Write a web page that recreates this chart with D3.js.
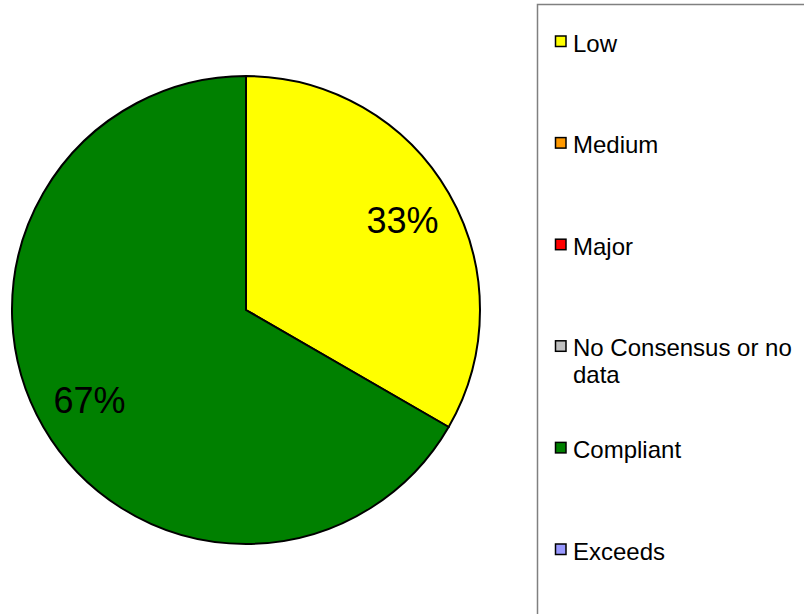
<!DOCTYPE html>
<html><head><meta charset="utf-8">
<script src="https://cdn.jsdelivr.net/npm/d3@7"></script>
<style>body{margin:0;background:#fff}svg{display:block}</style>
</head><body>
<script>
const categories = ["Low","Medium","Major","No Consensus or no data","Compliant","Exceeds"];
const legendLines = [["Low"],["Medium"],["Major"],["No Consensus or no","data"],["Compliant"],["Exceeds"]];
const values = [1,0,0,0,2,0];
const colors = ["#FFFF00","#FF9900","#FF0000","#C0C0C0","#008000","#9999FF"];

const W=804,H=614;
const svg=d3.select("body").append("svg").attr("width",W).attr("height",H);
const font="Arial, 'Liberation Sans', sans-serif";
const cx=246, cy=310, r=234;
const total=d3.sum(values);
const pie=d3.pie().sort(null).value(d=>d.v);
const data=pie(categories.map((c,i)=>({c,v:values[i],col:colors[i]})));
const arc=d3.arc().innerRadius(0).outerRadius(r);
const g=svg.append("g").attr("transform",`translate(${cx},${cy})`);
g.selectAll("path").data(data.filter(d=>d.data.v>0)).join("path")
 .attr("d",arc).attr("fill",d=>d.data.col).attr("stroke","#000").attr("stroke-width",2);
const labelArc=d3.arc().innerRadius(r*0.772).outerRadius(r*0.772);
g.selectAll("text").data(data.filter(d=>d.data.v>0)).join("text")
 .attr("transform",d=>`translate(${labelArc.centroid(d)})`)
 .attr("text-anchor","middle").attr("dy","0.36em")
 .style("font-family",font).style("font-size","36px").attr("fill","#000")
 .text(d=>Math.round(d.data.v/total*100)+"%");

// legend
svg.append("rect").attr("x",537.5).attr("y",4.5).attr("width",300).attr("height",700)
 .attr("fill","#fff").attr("stroke","#808080").attr("stroke-width",1.5);
const ly=d3.scalePoint().domain(categories).range([43,551]);
const lg=svg.append("g").selectAll("g").data(categories).join("g")
 .attr("transform",d=>`translate(0,${ly(d)})`);
lg.append("rect").attr("x",555.5).attr("y",-7).attr("width",10.5).attr("height",10.5)
 .attr("fill",(d,i)=>colors[i]).attr("stroke","#000").attr("stroke-width",1.5);
lg.each(function(d,i){
  const t=d3.select(this).append("text").attr("x",573).attr("y",0)
   .style("font-family",font).style("font-size","24px").attr("fill","#000");
  legendLines[i].forEach((s,j)=>t.append("tspan").attr("x",573).attr("dy",j===0?"0.36em":"1.12em").text(s));
});
</script>
</body></html>
